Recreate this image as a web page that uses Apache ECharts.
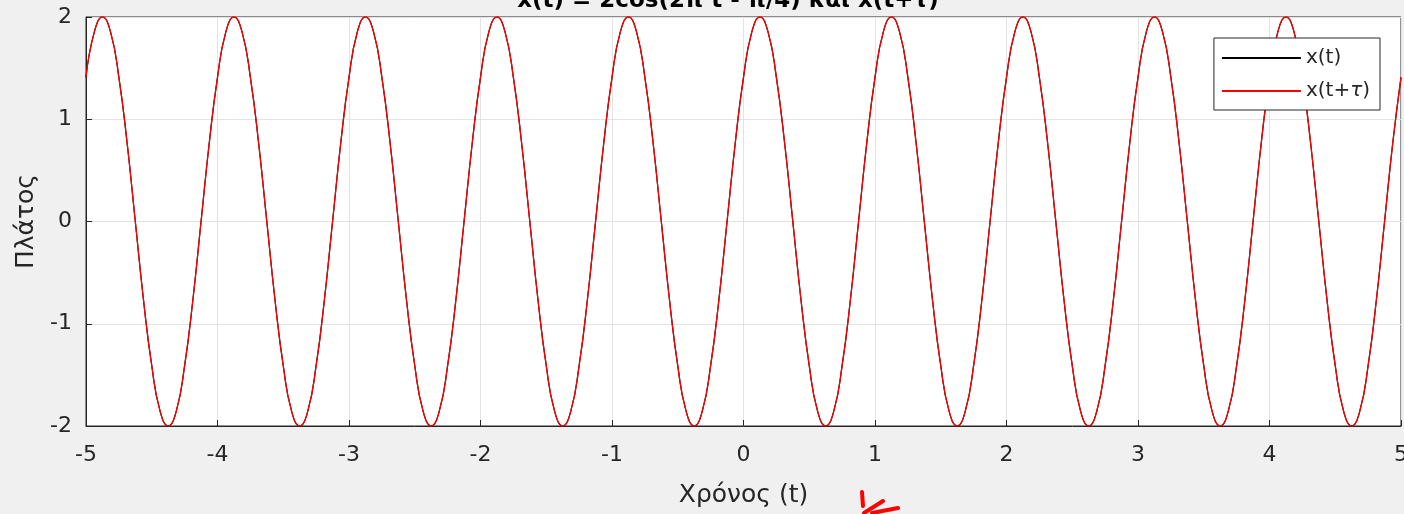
<!DOCTYPE html>
<html>
<head>
<meta charset="utf-8">
<script src="https://cdn.jsdelivr.net/npm/echarts@6/dist/echarts.min.js"></script>
<style>
html,body{margin:0;padding:0;background:#f0f0f0;}
#c{width:1404px;height:514px;}
</style>
</head>
<body>
<div id="c"></div>
<script>
// Sampling grid: t from -5 to 5, 16 samples per unit
const tStart = -5, tStep = 0.0625, nSamples = 161;
const xTicks = [-5,-4,-3,-2,-1,0,1,2,3,4,5];
const yTicks = [-2,-1,0,1,2];
const seriesNames = ['x(t)', 'x(t+τ)'];
// x(t) values
const xt = [
1.41,1.85,2,1.85,1.41,0.77,0,-0.77,-1.41,-1.85,-2,-1.85,-1.41,-0.77,0,0.77,
1.41,1.85,2,1.85,1.41,0.77,0,-0.77,-1.41,-1.85,-2,-1.85,-1.41,-0.77,0,0.77,
1.41,1.85,2,1.85,1.41,0.77,0,-0.77,-1.41,-1.85,-2,-1.85,-1.41,-0.77,0,0.77,
1.41,1.85,2,1.85,1.41,0.77,0,-0.77,-1.41,-1.85,-2,-1.85,-1.41,-0.77,0,0.77,
1.41,1.85,2,1.85,1.41,0.77,0,-0.77,-1.41,-1.85,-2,-1.85,-1.41,-0.77,0,0.77,
1.41,1.85,2,1.85,1.41,0.77,0,-0.77,-1.41,-1.85,-2,-1.85,-1.41,-0.77,0,0.77,
1.41,1.85,2,1.85,1.41,0.77,0,-0.77,-1.41,-1.85,-2,-1.85,-1.41,-0.77,0,0.77,
1.41,1.85,2,1.85,1.41,0.77,0,-0.77,-1.41,-1.85,-2,-1.85,-1.41,-0.77,0,0.77,
1.41,1.85,2,1.85,1.41,0.77,0,-0.77,-1.41,-1.85,-2,-1.85,-1.41,-0.77,0,0.77,
1.41,1.85,2,1.85,1.41,0.77,0,-0.77,-1.41,-1.85,-2,-1.85,-1.41,-0.77,0,0.77,
1.41
];
// x(t+tau) values (coincide with x(t))
const xtTau = [
1.41,1.85,2,1.85,1.41,0.77,0,-0.77,-1.41,-1.85,-2,-1.85,-1.41,-0.77,0,0.77,
1.41,1.85,2,1.85,1.41,0.77,0,-0.77,-1.41,-1.85,-2,-1.85,-1.41,-0.77,0,0.77,
1.41,1.85,2,1.85,1.41,0.77,0,-0.77,-1.41,-1.85,-2,-1.85,-1.41,-0.77,0,0.77,
1.41,1.85,2,1.85,1.41,0.77,0,-0.77,-1.41,-1.85,-2,-1.85,-1.41,-0.77,0,0.77,
1.41,1.85,2,1.85,1.41,0.77,0,-0.77,-1.41,-1.85,-2,-1.85,-1.41,-0.77,0,0.77,
1.41,1.85,2,1.85,1.41,0.77,0,-0.77,-1.41,-1.85,-2,-1.85,-1.41,-0.77,0,0.77,
1.41,1.85,2,1.85,1.41,0.77,0,-0.77,-1.41,-1.85,-2,-1.85,-1.41,-0.77,0,0.77,
1.41,1.85,2,1.85,1.41,0.77,0,-0.77,-1.41,-1.85,-2,-1.85,-1.41,-0.77,0,0.77,
1.41,1.85,2,1.85,1.41,0.77,0,-0.77,-1.41,-1.85,-2,-1.85,-1.41,-0.77,0,0.77,
1.41,1.85,2,1.85,1.41,0.77,0,-0.77,-1.41,-1.85,-2,-1.85,-1.41,-0.77,0,0.77,
1.41
];

const tVals = [];
for (let i = 0; i < nSamples; i++) tVals.push(tStart + i * tStep);
const pairs = (arr) => arr.map((v, i) => [tVals[i], v]);

const FONT = 'DejaVu Sans, sans-serif';
const chart = echarts.init(document.getElementById('c'));
chart.setOption({
  backgroundColor: '#f0f0f0',
  animation: false,
  grid: {
    left: 86, right: 3, top: 17, bottom: 88, outerBoundsMode: 'none', containLabel: false,
    show: true, backgroundColor: '#ffffff', borderColor: '#262626', borderWidth: 1
  },
  xAxis: {
    type: 'value', min: -5, max: 5, interval: 1,
    name: 'Χρόνος (t)', nameLocation: 'middle', nameGap: 57,
    nameTextStyle: { fontFamily: FONT, fontSize: 25, color: '#262626' },
    axisLine: { show: true, onZero: false, lineStyle: { color: '#262626', width: 1 } },
    axisTick: { show: true, inside: true, length: 6, lineStyle: { color: '#262626' } },
    axisLabel: { fontFamily: FONT, fontSize: 22, color: '#262626', margin: 18,
      formatter: v => xTicks.includes(v) ? String(v) : '' },
    splitLine: { show: true, lineStyle: { color: '#e3e3e3', width: 1 } }
  },
  yAxis: {
    type: 'value', min: -2, max: 2, interval: 1,
    name: 'Πλάτος', nameLocation: 'middle', nameGap: 36,
    nameTextStyle: { fontFamily: FONT, fontSize: 25, color: '#262626' },
    axisLine: { show: true, onZero: false, lineStyle: { color: '#262626', width: 1 } },
    axisTick: { show: true, inside: true, length: 6, lineStyle: { color: '#262626' } },
    axisLabel: { fontFamily: FONT, fontSize: 22, color: '#262626', margin: 14,
      formatter: v => yTicks.includes(v) ? String(v) : '' },
    splitLine: { show: true, lineStyle: { color: '#e3e3e3', width: 1 } }
  },
  legend: {
    orient: 'vertical', right: 24, top: 38,
    padding: [10, 10, 9, 7],
    itemWidth: 79, itemHeight: 14, itemGap: 13,
    backgroundColor: '#ffffff', borderColor: '#262626', borderWidth: 1, borderRadius: 0,
    data: seriesNames,
    itemStyle: { opacity: 0 },
    formatter: n => n === 'x(t+τ)' ? 'x(t+{i|τ})' : n,
    textStyle: { fontFamily: FONT, fontSize: 20, color: '#262626',
      rich: { i: { fontFamily: FONT, fontSize: 20, fontStyle: 'italic', color: '#262626' } } }
  },
  series: [
    { name: seriesNames[0], type: 'line', data: pairs(xt), smooth: true, symbol: 'none', showSymbol: false,
      lineStyle: { color: '#000000', width: 1.2 }, itemStyle: { color: '#000000' } },
    { name: seriesNames[1], type: 'line', data: pairs(xtTau), smooth: true, symbol: 'none', showSymbol: false,
      lineStyle: { color: '#ff0000', width: 1.3 }, itemStyle: { color: '#ff0000' } }
  ],
  graphic: [
    { type: 'text', x: 728, y: 13, z: 100,
      style: { text: 'x(t) = 2cos(2π t - π/4) και x(t+τ)', font: 'bold 23px DejaVu Sans, sans-serif',
        fill: '#000', align: 'center', verticalAlign: 'bottom' } },
    { type: 'line', shape: { x1: 862, y1: 492, x2: 863, y2: 506 }, style: { stroke: '#ff0000', lineWidth: 4, lineCap: 'round' } },
    { type: 'line', shape: { x1: 864, y1: 513, x2: 883, y2: 501 }, style: { stroke: '#ff0000', lineWidth: 4, lineCap: 'round' } },
    { type: 'line', shape: { x1: 872, y1: 513, x2: 898, y2: 508 }, style: { stroke: '#ff0000', lineWidth: 4, lineCap: 'round' } }
  ]
});
</script>
</body>
</html>
